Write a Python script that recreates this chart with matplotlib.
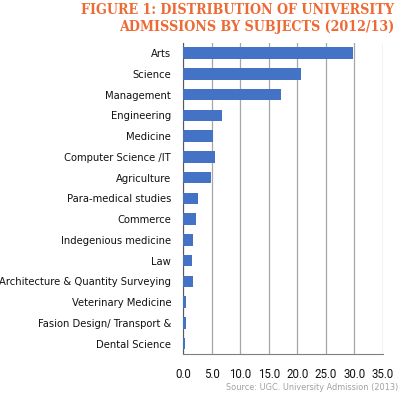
import matplotlib
matplotlib.use('Agg')
import matplotlib.pyplot as plt

# admissions share by subject (%), top to bottom as in the chart
subjects = ['Arts', 'Science', 'Management', 'Engineering', 'Medicine',
            'Computer Science /IT', 'Agriculture', 'Para-medical studies',
            'Commerce', 'Indegenious medicine', 'Law',
            'Architecture & Quantity Surveying', 'Veterinary Medicine',
            'Fasion Design/ Transport &', 'Dental Science']
values = [29.8, 20.6, 17.1, 6.8, 5.2, 5.6, 4.9, 2.7, 2.3, 1.8, 1.5, 1.7,
          0.45, 0.45, 0.4]
xticks = [0, 5, 10, 15, 20, 25, 30, 35]

fig = plt.figure(figsize=(4.0, 3.97), dpi=100)
ax = fig.add_axes([0.4575, 0.1083, 0.5, 0.7841])

ypos = list(range(len(subjects)))
ax.barh(ypos, values, height=0.55, color='#4472C4', zorder=3)
ax.set_ylim(len(subjects) - 0.5, -0.5)
ax.set_xlim(0, 35)
ax.set_xticks(xticks)
ax.set_xticklabels(['%.1f' % v for v in xticks], fontsize=8.3,
                   family='Roboto', color='#111111')
ax.set_yticks(ypos)
ax.set_yticklabels(subjects, fontsize=8.0, family='DejaVu Sans',
                   stretch='condensed', color='#111111')
ax.tick_params(length=0)
ax.tick_params(axis='y', pad=8.5)
ax.tick_params(axis='x', pad=10)
ax.grid(axis='x', color='#a6a6a6', linewidth=0.9, zorder=0)
for s in ['top', 'right']:
    ax.spines[s].set_visible(False)
ax.spines['left'].set_color('#595959')
ax.spines['bottom'].set_color('#7f7f7f')

orange = '#EE6A35'
fig.text(0.985, 0.965, 'FIGURE 1: DISTRIBUTION OF UNIVERSITY', ha='right',
         va='baseline', color=orange, fontsize=10.2, fontweight='heavy',
         family='DejaVu Serif', stretch='condensed')
fig.text(0.985, 0.922, 'ADMISSIONS BY SUBJECTS (2012/13)', ha='right',
         va='baseline', color=orange, fontsize=10.2, fontweight='heavy',
         family='DejaVu Serif', stretch='condensed')
fig.text(0.995, 0.012, 'Source: UGC. University Admission (2013)', ha='right',
         va='bottom', color='#a0a0a0', fontsize=5.9)

fig.savefig('out.png', dpi=100)
